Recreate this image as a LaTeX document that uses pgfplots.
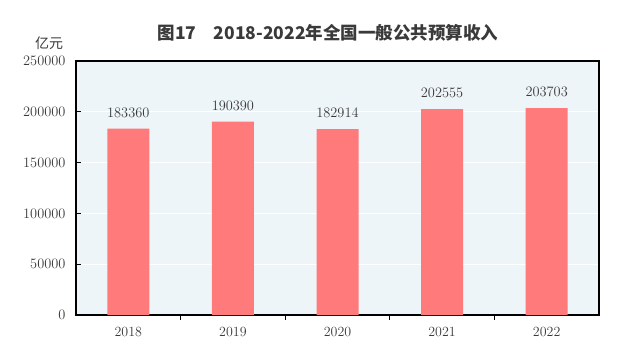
\documentclass[border=0pt]{standalone}
\usepackage{pgfplots}
\pgfplotsset{compat=1.18}
\usepackage{fontspec}
\newfontfamily\cjk{Noto Sans CJK SC}
\definecolor{bg}{HTML}{EEF5F9}
\definecolor{barc}{HTML}{FF7B7B}
\definecolor{txt}{HTML}{3A3A3A}
\begin{document}
\begin{tikzpicture}[x=1pt,y=1pt]
\path[use as bounding box] (0,0) rectangle (639,354);
\begin{axis}[
  at={(76pt,39pt)}, anchor=south west,
  scale only axis, width=523pt, height=254pt,
  xmin=-0.5, xmax=4.5, ymin=0, ymax=250000,
  ytick={0,50000,100000,150000,200000,250000},
  scaled y ticks=false,
  /pgf/number format/fixed, /pgf/number format/precision=0,
  /pgf/number format/1000 sep={},
  xtick={0,1,2,3,4},
  xticklabels={2018,2019,2020,2021,2022},
  minor xtick={0.5,1.5,2.5,3.5},
  tick align=inside,
  xtick pos=bottom, ytick pos=left,
  x tick style={draw=none},
  minor x tick style={draw=black, thick},
  minor tick length=5pt,
  y tick style={black, thick},
  major tick length=5pt,
  ymajorgrids, grid style={white, line width=0.8pt},
  axis background/.style={fill=bg},
  axis line style={black, line width=1.1pt},
  tick label style={font=\fontsize{14}{16}\selectfont, text=txt},
  yticklabel style={xshift=-7pt},
  xticklabel style={yshift=-4pt},
  ybar, bar width=42pt,
  nodes near coords,
  nodes near coords style={font=\fontsize{14}{16}\selectfont, text=txt, anchor=south, yshift=8pt,
    /pgf/number format/fixed, /pgf/number format/precision=0, /pgf/number format/1000 sep={}},
]
\addplot[fill=barc, draw=none] coordinates {(0,183360) (1,190390) (2,182914) (3,202555) (4,203703)};
\end{axis}
\node[text=txt] at (328,321) {\cjk\bfseries\fontsize{17.5}{20}\selectfont 图17\quad 2018-2022年全国一般公共预算收入};
\node[text=txt] at (49,311) {\cjk\fontsize{14}{16}\selectfont 亿元};
\end{tikzpicture}
\end{document}
